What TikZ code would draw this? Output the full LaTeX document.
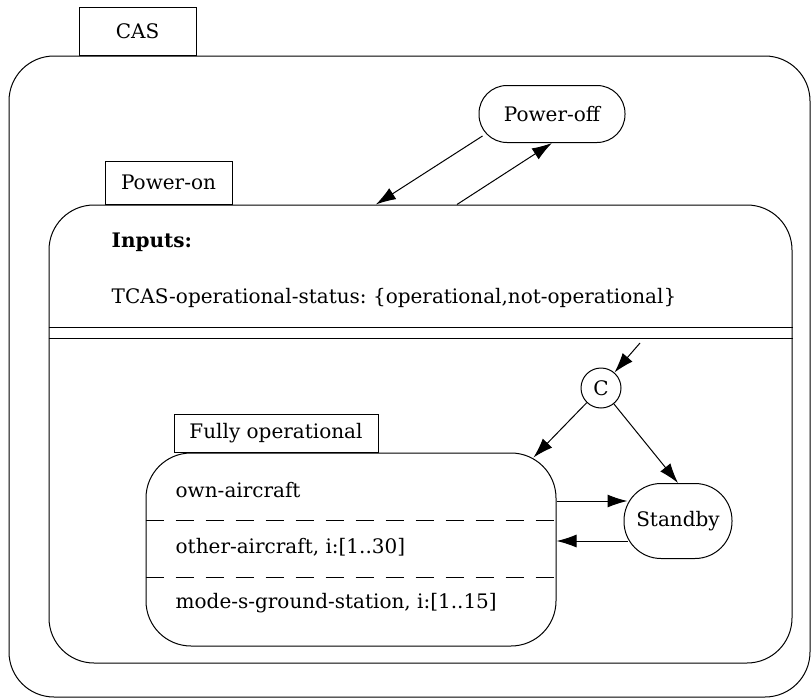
\documentclass[tikz,border=0pt]{standalone}
\usepackage{fontspec}
\setmainfont{DejaVu Serif}
\usepackage{tikz}
\usetikzlibrary{arrows.meta,positioning,calc}
\frenchspacing

\begin{document}
\begin{tikzpicture}[
    x=1pt, y=-1pt,
    every node/.style={font=\fontsize{20}{24}\selectfont, inner sep=0pt},
    tab/.style={rectangle, draw=black, line width=1pt, anchor=south west},
    statebox/.style={rectangle, draw=black, line width=1pt, rounded corners=45pt},
    pill/.style={rectangle, draw=black, line width=1pt},
    label/.style={anchor=west},
    divider/.style={draw=black, line width=1pt},
    arrow/.style={draw, line width=1pt, -{Latex[length=20pt,width=13pt]}}
]
    \useasboundingbox (0,0) rectangle (812,699);
    % outer state
    \node[statebox, minimum width=801pt, minimum height=641pt] (cas) at (409.5,376.5) {};
    \node[tab, minimum width=117pt, minimum height=48pt] (castab) at ([xshift=70pt]cas.north west) {CAS};
    \node[pill, rounded corners=28pt, minimum width=146pt, minimum height=57pt] (poweroff) at (552,114) {Power-off};
    % power-on
    \node[statebox, minimum width=743pt, minimum height=458pt] (poweron) at (420.5,434) {};
    \node[tab, minimum width=127pt, minimum height=43pt] (powerontab) at ([xshift=56pt]poweron.north west) {Power-on};
    \node[label] (inputs) at ([xshift=63pt,yshift=-38pt]poweron.north west) {\textbf{Inputs:}};
    \node[label] (status) at ([xshift=63pt,yshift=-93pt]poweron.north west) {TCAS-operational-status: \{operational,not-operational\}};
    \draw[divider] ([yshift=-123pt]poweron.north west) -- ([yshift=-123pt]poweron.north east);
    \draw[divider] ([yshift=-134pt]poweron.north west) -- ([yshift=-134pt]poweron.north east);
    % fully operational
    \node[statebox, minimum width=410pt, minimum height=193pt] (fully) at (351,549.5) {};
    \node[tab, minimum width=204pt, minimum height=38pt] (fullytab) at ([xshift=28pt]fully.north west) {Fully operational};
    \node[label] (own) at ([xshift=30pt,yshift=-38pt]fully.north west) {own-aircraft};
    \node[label] (other) at ([xshift=30pt,yshift=-95pt]fully.north west) {other-aircraft, i:[1..30]};
    \node[label] (ground) at ([xshift=30pt,yshift=-151pt]fully.north west) {mode-s-ground-station, i:[1..15]};
    \draw[divider, dash pattern=on 18pt off 12pt] ([yshift=-68pt]fully.north west) -- ([yshift=-68pt]fully.north east);
    \draw[divider, dash pattern=on 18pt off 12pt] ([yshift=-125pt]fully.north west) -- ([yshift=-125pt]fully.north east);
    % connector and standby
    \node[circle, draw=black, line width=1pt, minimum size=40pt] (c) at (601,388) {C};
    \node[pill, rounded corners=37pt, minimum width=108pt, minimum height=75pt] (standby) at (678,521) {Standby};
    \coordinate (init) at (640,343);
    \coordinate (sbin) at ([xshift=4pt,yshift=20pt]standby.west);
    \coordinate (sbout) at ([xshift=4pt,yshift=-20pt]standby.west);
    % transitions
    \draw[arrow] ([xshift=4pt,yshift=7pt]poweroff.south west) -- ($(poweron.north west)!0.44!(poweron.north east)$);
    \draw[arrow] ($(poweron.north west)!0.549!(poweron.north east)$) -- (poweroff.south);
    \draw[arrow] (init) -- (c);
    \draw[arrow] (c) -- ([xshift=-23pt,yshift=-5pt]fully.north east);
    \draw[arrow] (c) -- (standby.north);
    \draw[arrow] (fully.east |- sbin) -- (sbin);
    \draw[arrow] (sbout) -- (fully.east |- sbout);
\end{tikzpicture}
\end{document}
